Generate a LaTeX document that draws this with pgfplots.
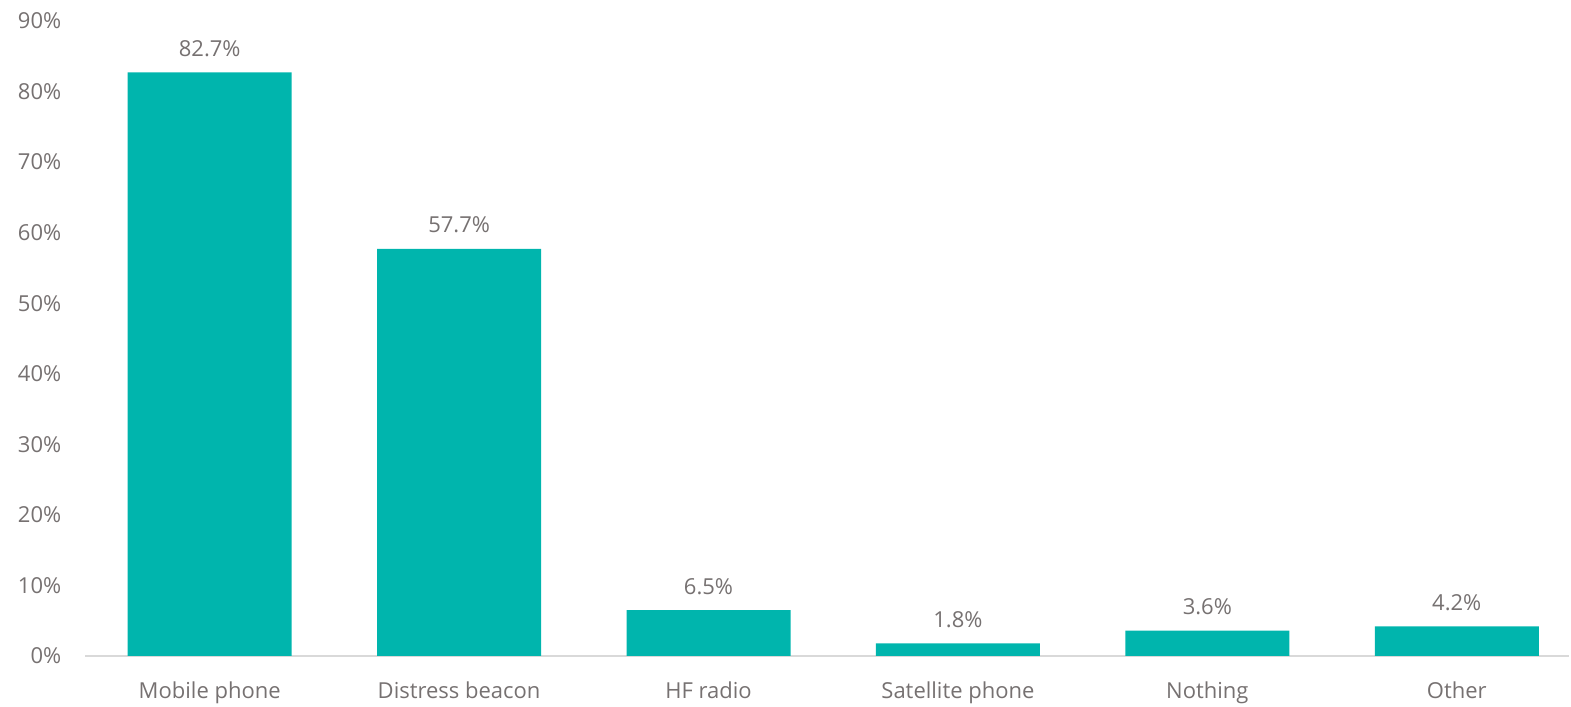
\documentclass[border=0pt]{standalone}
\usepackage{pgfplots}
\pgfplotsset{compat=1.18}
\usepackage{fontspec}
\setmainfont{Open Sans}
\definecolor{barteal}{RGB}{0,181,173}
\definecolor{txtgray}{RGB}{118,113,113}
\definecolor{axgray}{RGB}{217,217,217}
\begin{document}
\fontsize{11pt}{13pt}\selectfont
\begin{tikzpicture}
\begin{axis}[
  name=ax,
  scale only axis,
  width=742pt, height=317.5pt,
  ymin=0, ymax=90,
  xmin=-0.5, xmax=5.45,
  ytick={0,10,...,90},
  yticklabel={\pgfmathprintnumber{\tick}\%},
  xtick=data,
  xticklabels={Mobile phone,Distress beacon,HF radio,Satellite phone,Nothing,Other},
  axis x line*=bottom,
  axis y line*=left,
  x axis line style={draw=axgray, line width=0.8pt},
  y axis line style={draw=none},
  major tick length=0pt,
  tick label style={text=txtgray, font=\fontsize{11pt}{13pt}\selectfont},
  /pgf/number format/assume math mode=true,
  xticklabel style={yshift=-9pt},
  yticklabel style={xshift=-8pt},
  ybar,
  bar width=82pt,
  nodes near coords={\pgfmathprintnumber[fixed,fixed zerofill,precision=1]{\pgfplotspointmeta}\%},
  nodes near coords style={text=txtgray, font=\fontsize{11pt}{13pt}\selectfont, yshift=4pt},
]
\addplot[fill=barteal, draw=none] coordinates {(0,82.7) (1,57.7) (2,6.5) (3,1.8) (4,3.6) (5,4.2)};
\end{axis}
\pgfresetboundingbox
\path ([xshift=-42.5pt,yshift=-25.5pt]ax.south west) rectangle ([xshift=1pt,yshift=10.5pt]ax.north east);
\end{tikzpicture}
\end{document}
